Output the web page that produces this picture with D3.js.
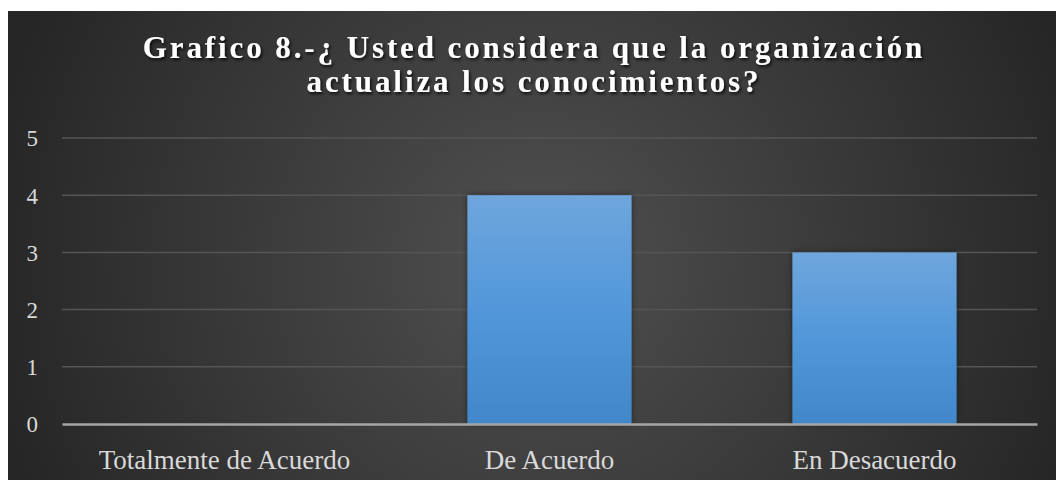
<!DOCTYPE html>
<html>
<head>
<meta charset="utf-8">
<script src="https://cdn.jsdelivr.net/npm/d3@7"></script>
<style>
  html, body { margin: 0; padding: 0; background: #ffffff; }
  svg { display: block; }
</style>
</head>
<body>
<svg id="chart" width="1056" height="480"></svg>
<script>
// Survey answers for question 8
const categories = ["Totalmente de Acuerdo", "De Acuerdo", "En Desacuerdo"];
const counts = [0, 4, 3];
const yTicks = [0, 1, 2, 3, 4, 5];
const titleLines = [
  "Grafico 8.-¿ Usted considera que la organización",
  "actualiza los conocimientos?"
];

const W = 1056, H = 480;
const serif = "'Liberation Serif', 'Times New Roman', serif";
const svg = d3.select("#chart");
const defs = svg.append("defs");

// Dark panel with a soft radial highlight
const bgGrad = defs.append("radialGradient")
  .attr("id", "bgGrad")
  .attr("gradientUnits", "userSpaceOnUse")
  .attr("cx", 540).attr("cy", 260).attr("r", 560);
bgGrad.append("stop").attr("offset", "0%").attr("stop-color", "#505050");
bgGrad.append("stop").attr("offset", "100%").attr("stop-color", "#262626");

// Bar fill: lighter blue at the top, deeper blue at the bottom
const barGrad = defs.append("linearGradient")
  .attr("id", "barGrad")
  .attr("x1", 0).attr("y1", 0).attr("x2", 0).attr("y2", 1);
barGrad.append("stop").attr("offset", "0%").attr("stop-color", "#6fa6dc");
barGrad.append("stop").attr("offset", "50%").attr("stop-color", "#5297da");
barGrad.append("stop").attr("offset", "100%").attr("stop-color", "#4187c9");

const shadow = defs.append("filter").attr("id", "barShadow")
  .attr("x", "-10%").attr("y", "-10%").attr("width", "120%").attr("height", "120%");
shadow.append("feDropShadow").attr("dx", 0).attr("dy", 0)
  .attr("stdDeviation", 3).attr("flood-color", "#000").attr("flood-opacity", 0.45);

const titleShadow = defs.append("filter").attr("id", "titleShadow")
  .attr("x", "-5%").attr("y", "-20%").attr("width", "110%").attr("height", "160%");
titleShadow.append("feDropShadow").attr("dx", 1.5).attr("dy", 2)
  .attr("stdDeviation", 1.5).attr("flood-color", "#000").attr("flood-opacity", 0.8);

svg.append("rect")
  .attr("x", 8).attr("y", 11).attr("width", W - 8).attr("height", H - 11)
  .attr("fill", "url(#bgGrad)");

// Plot area
const plot = { left: 62, right: 1037, top: 138, bottom: 424 };

const x = d3.scaleBand()
  .domain(categories)
  .range([plot.left, plot.right])
  .paddingInner(0.495)
  .paddingOuter(0.2475);

const y = d3.scaleLinear()
  .domain([0, 5])
  .range([plot.bottom, plot.top]);

// Horizontal gridlines
svg.append("g")
  .selectAll("line")
  .data(yTicks.filter(d => d > 0))
  .join("line")
  .attr("x1", plot.left).attr("x2", plot.right)
  .attr("y1", d => y(d)).attr("y2", d => y(d))
  .attr("stroke", "#555555").attr("stroke-width", 1.5);

// Y-axis labels
const yAxis = d3.axisLeft(y).tickValues(yTicks).tickSize(0).tickPadding(0).tickFormat(d3.format("d"));
const yG = svg.append("g")
  .attr("transform", `translate(38,0)`)
  .call(yAxis)
  .attr("font-family", serif);
yG.select(".domain").remove();
yG.selectAll("text")
  .attr("fill", "#d9d9d9")
  .attr("font-size", "23px")
  .attr("dy", "0.34em");

// Bars
svg.append("g")
  .selectAll("rect")
  .data(categories.map((c, i) => ({ c, v: counts[i] })).filter(d => d.v > 0))
  .join("rect")
  .attr("x", d => x(d.c))
  .attr("y", d => y(d.v))
  .attr("width", x.bandwidth())
  .attr("height", d => y(0) - y(d.v))
  .attr("fill", "url(#barGrad)")
  .attr("filter", "url(#barShadow)");

// Category axis along the zero line
const xAxis = d3.axisBottom(x).tickSize(0).tickPadding(0);
const xG = svg.append("g")
  .attr("transform", `translate(0,${y(0)})`)
  .call(xAxis)
  .attr("font-family", serif);
xG.select(".domain")
  .attr("stroke", "#a6a6a6").attr("stroke-width", 2.5);
xG.selectAll("text")
  .attr("fill", "#d9d9d9")
  .attr("font-size", "27px")
  .attr("dy", "0")
  .attr("y", 45);

// Title
svg.append("g")
  .attr("filter", "url(#titleShadow)")
  .selectAll("text")
  .data(titleLines)
  .join("text")
  .attr("x", W / 2 + 6)
  .attr("y", (d, i) => 58 + i * 34)
  .attr("text-anchor", "middle")
  .attr("fill", "#ffffff")
  .attr("font-family", serif)
  .attr("font-weight", "bold")
  .attr("font-size", "31px")
  .attr("letter-spacing", "2.9px")
  .text(d => d);
</script>
</body>
</html>
